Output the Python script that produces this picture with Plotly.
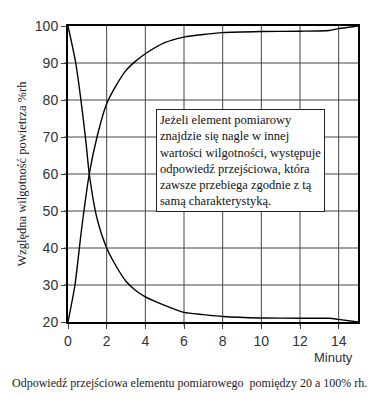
import plotly.graph_objects as go

minutes_rise = [0, 0.36, 0.7, 1.1, 1.5, 2.0, 2.5, 3.0, 3.5, 4.0, 5.0, 6.0, 7.0, 8.0, 10.0, 12.0, 13.5, 14.0, 15.0]
rh_rise = [20, 30, 45, 60, 70, 79, 84, 88, 90.5, 92.5, 95.5, 97, 97.7, 98.2, 98.5, 98.6, 98.8, 99.3, 100]
minutes_fall = [0, 0.4, 0.9, 1.1, 1.5, 2.0, 2.5, 3.0, 3.5, 4.0, 5.0, 6.0, 7.0, 8.0, 10.0, 12.0, 13.5, 14.0, 15.0]
rh_fall = [100, 90, 70, 60, 48, 40, 35, 31, 28.5, 26.8, 24.5, 22.6, 22, 21.5, 21.1, 21, 21, 20.7, 20]

x_ticks = [0, 2, 4, 6, 8, 10, 12, 14]
y_ticks = [20, 30, 40, 50, 60, 70, 80, 90, 100]

note_lines = [
    "Jeżeli element pomiarowy",
    "znajdzie się nagle w innej",
    "wartości wilgotności, występuje",
    "odpowiedź przejściowa, która",
    "zawsze przebiega zgodnie z tą",
    "samą charakterystyką.",
]
y_title = "Względna wilgotność powietrza %rh"
x_title = "Minuty"
caption = "Odpowiedź przejściowa elementu pomiarowego  pomiędzy 20 a 100% rh."

SERIF = "Liberation Serif"
SANS = "Liberation Sans"

fig = go.Figure()
fig.add_trace(go.Scatter(x=minutes_rise, y=rh_rise, mode="lines",
                         line=dict(color="black", width=1.4, shape="spline", smoothing=0.6),
                         showlegend=False, hoverinfo="skip"))
fig.add_trace(go.Scatter(x=minutes_fall, y=rh_fall, mode="lines",
                         line=dict(color="black", width=1.4, shape="spline", smoothing=0.6),
                         showlegend=False, hoverinfo="skip"))

# grid lines drawn from the tick lists
for xv in x_ticks[1:]:
    fig.add_shape(type="line", xref="x", yref="paper", x0=xv, x1=xv, y0=-0.013, y1=1,
                  line=dict(color="#444444", width=1), layer="below")
for yv in y_ticks[1:-1]:
    fig.add_shape(type="line", xref="paper", yref="y", x0=-0.013, x1=1, y0=yv, y1=yv,
                  line=dict(color="#444444", width=1), layer="below")

fig.update_layout(
    width=381, height=400,
    margin=dict(l=68, r=23, t=26, b=78),
    paper_bgcolor="white", plot_bgcolor="white",
    font=dict(family=SANS, size=14, color="#333333"),
    xaxis=dict(range=[0, 15], tickvals=x_ticks, showgrid=False,
               zeroline=False, showline=True, linecolor="black", linewidth=2, mirror=True,
               ticks="outside", ticklen=5, tickcolor="#444444", fixedrange=True),
    yaxis=dict(range=[20, 100], tickvals=y_ticks, showgrid=False,
               zeroline=False, showline=True, linecolor="black", linewidth=2, mirror=True,
               ticks="outside", ticklen=5, tickcolor="#444444", fixedrange=True),
)

fig.add_annotation(xref="paper", yref="paper", x=0.305, y=0.72, xanchor="left", yanchor="top",
                   text="<br>".join(note_lines), showarrow=False, align="left",
                   font=dict(family=SERIF, size=12.5, color="#111111"),
                   bgcolor="white", bordercolor="#222222", borderwidth=1, borderpad=3)

fig.add_annotation(xref="paper", yref="paper", x=-0.16, y=0.5, xanchor="center", yanchor="middle",
                   text=y_title, textangle=-90, showarrow=False,
                   font=dict(family=SERIF, size=12.5, color="#222222"))

fig.add_annotation(xref="paper", yref="paper", x=0.915, y=-0.12, xanchor="center", yanchor="middle",
                   text=x_title, showarrow=False,
                   font=dict(family=SANS, size=13, color="#333333"))

fig.add_annotation(xref="paper", yref="paper", x=0.42, y=-0.205, xanchor="center", yanchor="middle",
                   text=caption, showarrow=False,
                   font=dict(family=SERIF, size=12, color="#222222"))

fig.write_html("out.html", config={"displayModeBar": False, "staticPlot": True},
               post_script="document.body.style.margin='0';document.body.style.padding='0';")
